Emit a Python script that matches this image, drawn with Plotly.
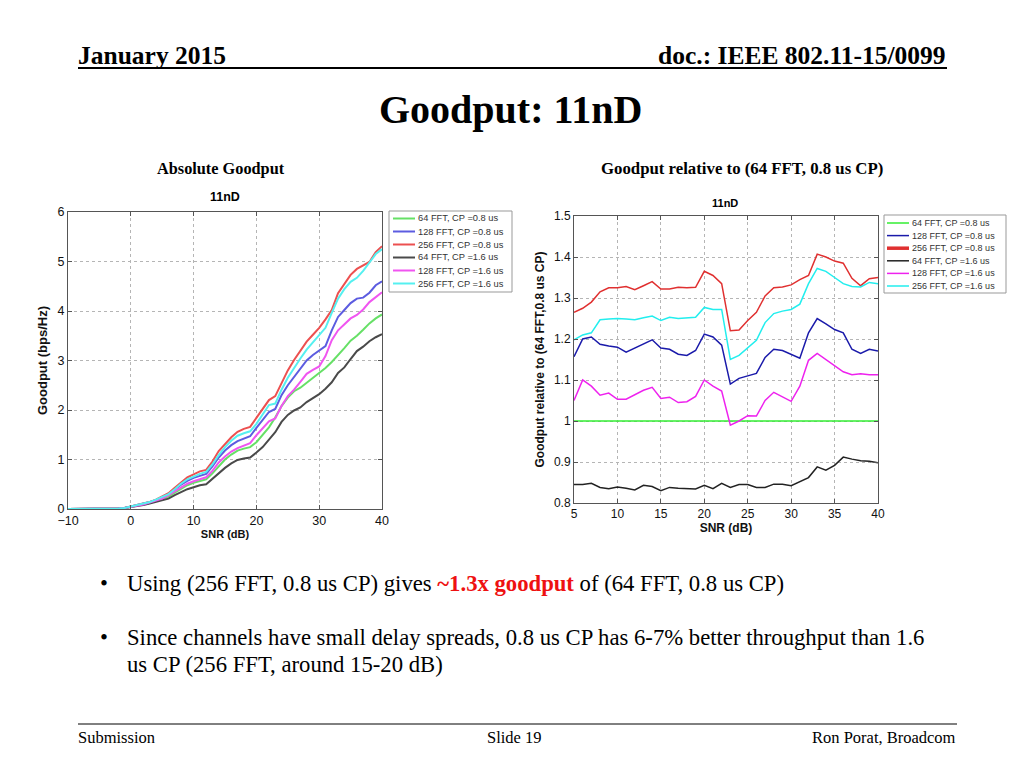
import plotly.graph_objects as go

# ---------------- data ----------------
snr_abs = list(range(-10, 41))
low_zero = [0.0] * 7 + [0.005, 0.01, 0.02]  # -10 .. -1

g64_08 = low_zero + [0.04, 0.06, 0.09, 0.12, 0.16, 0.20, 0.25, 0.33, 0.41, 0.48, 0.53, 0.57, 0.60, 0.72, 0.87,
                     1.00, 1.10, 1.18, 1.22, 1.25, 1.35, 1.50, 1.65, 1.85, 2.08, 2.25, 2.38, 2.45, 2.55, 2.65,
                     2.75, 2.85, 2.97, 3.10, 3.25, 3.40, 3.50, 3.62, 3.75, 3.85, 3.93]
g128_08 = low_zero + [0.05, 0.07, 0.10, 0.14, 0.18, 0.23, 0.30, 0.40, 0.49, 0.57, 0.63, 0.67, 0.71, 0.86, 1.04,
                      1.18, 1.29, 1.37, 1.42, 1.47, 1.64, 1.81, 1.96, 2.02, 2.30, 2.50, 2.66, 2.83, 3.00, 3.11,
                      3.20, 3.29, 3.61, 3.88, 4.02, 4.16, 4.25, 4.27, 4.37, 4.52, 4.60]
g256_08 = low_zero + [0.05, 0.07, 0.10, 0.14, 0.19, 0.25, 0.32, 0.43, 0.54, 0.64, 0.70, 0.76, 0.79, 0.96, 1.17,
                      1.32, 1.45, 1.56, 1.62, 1.66, 1.84, 2.03, 2.20, 2.28, 2.54, 2.80, 3.01, 3.20, 3.38, 3.52,
                      3.66, 3.83, 4.02, 4.36, 4.55, 4.73, 4.85, 4.92, 4.99, 5.19, 5.31]
g64_16 = low_zero + [0.04, 0.05, 0.08, 0.11, 0.14, 0.17, 0.21, 0.28, 0.34, 0.40, 0.44, 0.48, 0.50, 0.61, 0.73,
                     0.83, 0.92, 0.99, 1.02, 1.04, 1.14, 1.25, 1.40, 1.55, 1.76, 1.90, 1.99, 2.05, 2.16, 2.24,
                     2.32, 2.43, 2.56, 2.75, 2.86, 3.03, 3.19, 3.28, 3.39, 3.47, 3.53]
g128_16 = low_zero + [0.04, 0.06, 0.09, 0.13, 0.17, 0.21, 0.28, 0.36, 0.44, 0.51, 0.56, 0.60, 0.64, 0.77, 0.94,
                      1.06, 1.16, 1.23, 1.28, 1.33, 1.49, 1.63, 1.77, 1.83, 2.08, 2.28, 2.41, 2.57, 2.73, 2.81,
                      2.88, 3.09, 3.41, 3.61, 3.74, 3.85, 3.92, 4.03, 4.18, 4.28, 4.38]
g256_16 = low_zero + [0.05, 0.07, 0.10, 0.14, 0.19, 0.24, 0.30, 0.40, 0.51, 0.60, 0.66, 0.71, 0.75, 0.90, 1.09,
                      1.25, 1.38, 1.48, 1.53, 1.57, 1.72, 1.91, 2.10, 2.13, 2.41, 2.65, 2.85, 3.04, 3.22, 3.36,
                      3.50, 3.66, 3.96, 4.25, 4.44, 4.59, 4.67, 4.81, 4.98, 5.15, 5.25]

snr_rel = list(range(5, 41))
r64_08 = [1.0] * 36
r128_08 = [1.157, 1.200, 1.205, 1.187, 1.183, 1.180, 1.168, 1.178, 1.188, 1.198, 1.178, 1.175, 1.163, 1.160,
           1.172, 1.212, 1.205, 1.185, 1.090, 1.104, 1.110, 1.116, 1.155, 1.175, 1.172, 1.162, 1.153, 1.215,
           1.250, 1.237, 1.223, 1.215, 1.175, 1.165, 1.175, 1.171]
r256_08 = [1.265, 1.275, 1.290, 1.315, 1.325, 1.325, 1.328, 1.320, 1.330, 1.340, 1.322, 1.322, 1.326, 1.325,
           1.326, 1.365, 1.355, 1.335, 1.220, 1.222, 1.245, 1.265, 1.305, 1.325, 1.327, 1.332, 1.345, 1.355,
           1.407, 1.400, 1.390, 1.385, 1.348, 1.330, 1.347, 1.350]
r64_16 = [0.845, 0.845, 0.848, 0.838, 0.835, 0.839, 0.836, 0.832, 0.843, 0.840, 0.830, 0.838, 0.836, 0.835,
          0.834, 0.843, 0.835, 0.848, 0.838, 0.845, 0.845, 0.838, 0.838, 0.846, 0.846, 0.842, 0.852, 0.862,
          0.888, 0.880, 0.892, 0.912, 0.907, 0.903, 0.902, 0.898]
r128_16 = [1.050, 1.100, 1.085, 1.063, 1.068, 1.053, 1.053, 1.065, 1.075, 1.082, 1.055, 1.058, 1.045, 1.047,
           1.060, 1.100, 1.085, 1.073, 0.990, 1.000, 1.013, 1.012, 1.050, 1.070, 1.060, 1.048, 1.085, 1.148,
           1.165, 1.150, 1.133, 1.120, 1.113, 1.115, 1.113, 1.113]
r256_16 = [1.198, 1.210, 1.215, 1.247, 1.249, 1.250, 1.249, 1.247, 1.252, 1.256, 1.245, 1.253, 1.250, 1.252,
           1.253, 1.277, 1.272, 1.272, 1.150, 1.160, 1.178, 1.197, 1.240, 1.262, 1.268, 1.272, 1.285, 1.335,
           1.372, 1.365, 1.350, 1.335, 1.328, 1.327, 1.338, 1.335]

names = ["64 FFT, CP =0.8 us", "128 FFT, CP =0.8 us", "256 FFT, CP =0.8 us",
         "64 FFT, CP =1.6 us", "128 FFT, CP =1.6 us", "256 FFT, CP =1.6 us"]
abs_series = [g64_08, g128_08, g256_08, g64_16, g128_16, g256_16]
rel_series = [r64_08, r128_08, r256_08, r64_16, r128_16, r256_16]
colors_left = ["#66e066", "#5c5ce0", "#ec5050", "#4a4a4a", "#f055f0", "#55f0f0"]
colors_right = ["#33ee33", "#1a1aaa", "#e03030", "#222222", "#ee22ee", "#22eeee"]

W, H = 1024, 768
def px(x): return x / W
def py(y): return 1 - y / H

fig = go.Figure()
for n, ys, c in zip(names, abs_series, colors_left):
    fig.add_trace(go.Scatter(x=snr_abs, y=ys, mode="lines", name=n, line=dict(color=c, width=2),
                             xaxis="x", yaxis="y", showlegend=False))
for n, ys, c in zip(names, rel_series, colors_right):
    fig.add_trace(go.Scatter(x=snr_rel, y=ys, mode="lines", name=n, line=dict(color=c, width=1.5),
                             xaxis="x2", yaxis="y2", showlegend=False))

chart_font = "Liberation Sans, Arial, sans-serif"
serif = "Liberation Serif, Times New Roman, serif"

def axis_common(tsize):
    return dict(showline=True, linecolor="#555", linewidth=1, mirror="ticks", ticks="inside",
                ticklen=4, tickcolor="#555", showgrid=True, gridcolor="#b5b5b5", griddash="dot",
                gridwidth=1, zeroline=False, automargin=False,
                tickfont=dict(family=chart_font, size=tsize, color="#111"))

fig.update_layout(
    template="none",
    width=W, height=H, margin=dict(l=0, r=0, t=0, b=0, pad=0), autosize=False,
    paper_bgcolor="white", plot_bgcolor="white", showlegend=False,
    xaxis=dict(domain=[px(68), px(382)], range=[-10, 40], dtick=10, anchor="y",
               title=dict(text="<b>SNR (dB)</b>", font=dict(family=chart_font, size=11, color="#111"), standoff=0),
               **axis_common(12.5)),
    yaxis=dict(domain=[py(509), py(212)], range=[0, 6], dtick=1, anchor="x",
               title=dict(text="<b>Goodput (bps/Hz)</b>", font=dict(family=chart_font, size=13, color="#111"), standoff=6),
               **axis_common(12.5)),
    xaxis2=dict(domain=[px(574), px(878)], range=[5, 40], dtick=5, anchor="y2",
                title=dict(text="<b>SNR (dB)</b>", font=dict(family=chart_font, size=12, color="#111"), standoff=0),
                **axis_common(12)),
    yaxis2=dict(domain=[py(503), py(216)], range=[0.8, 1.5], dtick=0.1, anchor="x2",
                title=dict(text="<b>Goodput relative to (64 FFT,0.8 us CP)</b>",
                           font=dict(family=chart_font, size=12, color="#111"), standoff=6),
                **axis_common(12)),
)

def txt(x, y, s, size, xanchor="left", bold=False, color="black", family=serif):
    fig.add_annotation(x=px(x), y=py(y), xref="paper", yref="paper", text=(f"<b>{s}</b>" if bold else s),
                       showarrow=False, xanchor=xanchor, yanchor="middle",
                       font=dict(family=family, size=size, color=color))

def line(x0, y0, x1, y1, color, width):
    fig.add_shape(type="line", xref="paper", yref="paper", x0=px(x0), x1=px(x1), y0=py(y0), y1=py(y1),
                  line=dict(color=color, width=width))

# manual legends (entries match the traces above)
def legend_box(x0, y0, x1, y1, first_row, step, line_x0, line_x1, cols, widths, size):
    fig.add_shape(type="rect", xref="paper", yref="paper", x0=px(x0), x1=px(x1), y0=py(y1), y1=py(y0),
                  line=dict(color="#999", width=1), fillcolor="white")
    for i, (n, c, w) in enumerate(zip(names, cols, widths)):
        yy = first_row + i * step
        line(line_x0, yy, line_x1, yy, c, w)
        txt(line_x1 + 1, yy, n, size, family=chart_font, color="#333")

legend_box(389, 211, 512, 292, 218.5, 13, 393, 415, colors_left, [2] * 6, 9.3)
legend_box(884, 215, 1006, 293, 223, 12.6, 887, 909, colors_right, [1.5, 1.5, 3.5, 1.5, 1.5, 1.5], 9)

# header
txt(76, 55, "January 2015", 25.5, bold=True)
txt(948, 55, "doc.: IEEE 802.11-15/0099", 25.5, xanchor="right", bold=True)
line(78, 68, 947, 68, "black", 2)
txt(510, 110, "Goodput: 11nD", 40, xanchor="center", bold=True)
txt(221, 168, "Absolute Goodput", 16.3, xanchor="center", bold=True)
txt(742, 168, "Goodput relative to (64 FFT, 0.8 us CP)", 16.8, xanchor="center", bold=True)

# chart titles
txt(225, 197, "11nD", 12.5, xanchor="center", bold=True, family=chart_font)
txt(725, 203, "11nD", 11, xanchor="center", bold=True, family=chart_font)

# bullets
txt(98, 583, "•", 22.7)
txt(125, 583, "Using (256 FFT, 0.8 us CP) gives <span style='color:#ee1111'><b>~1.3x goodput</b></span> of (64 FFT, 0.8 us CP)", 22.7)
txt(98, 637, "•", 22.7)
txt(125, 637, "Since channels have small delay spreads, 0.8 us CP has 6-7% better throughput than 1.6", 22.7)
txt(125, 664, "us CP (256 FFT, around 15-20 dB)", 22.7)

# footer
line(78, 724, 957, 724, "black", 1)
txt(76, 737, "Submission", 16.5)
txt(514, 737, "Slide 19", 16.5, xanchor="center")
txt(958, 737, "Ron Porat, Broadcom", 16.5, xanchor="right")

fig.write_html("out.html", config={"displayModeBar": False},
               post_script="document.body.style.margin='0px';document.body.style.overflow='hidden';")
